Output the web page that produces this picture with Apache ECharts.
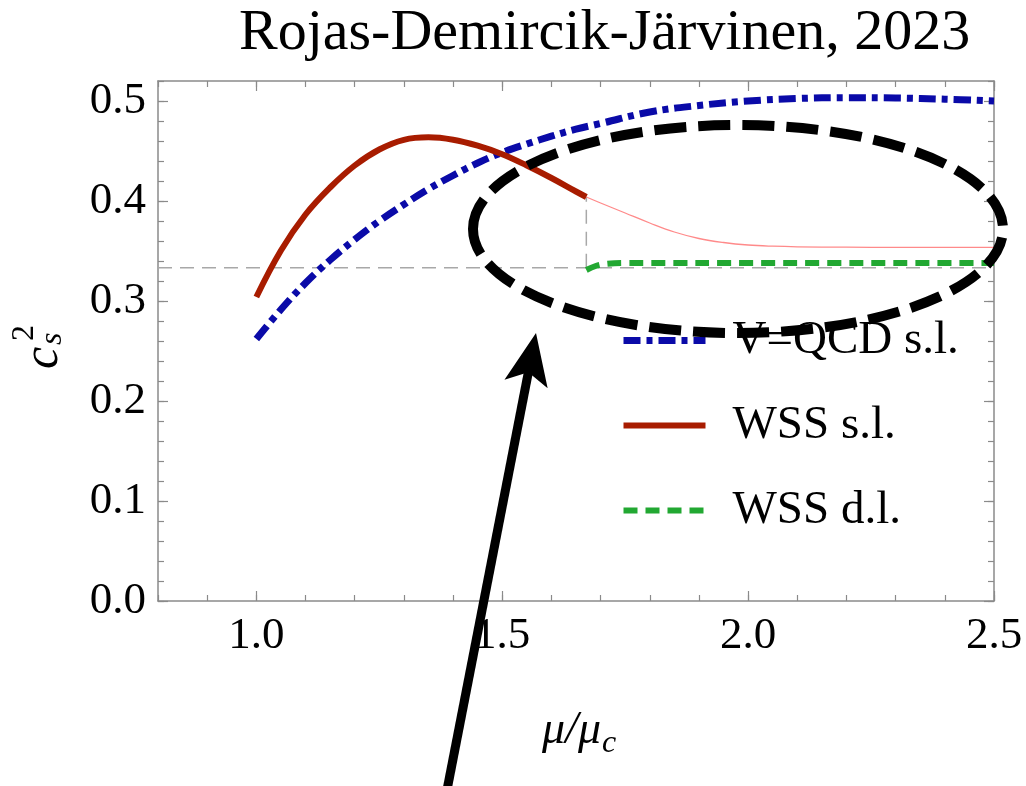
<!DOCTYPE html>
<html>
<head>
<meta charset="utf-8">
<title>Speed of sound</title>
<script src="https://cdn.jsdelivr.net/npm/echarts@6/dist/echarts.min.js"></script>
<style>
  html, body { margin: 0; padding: 0; background: #fff; }
  #chart { width: 1026px; height: 786px; }
</style>
</head>
<body>
<div id="chart"></div>
<script>
// ---- data ----
var qcdX = [1.00, 1.05, 1.10, 1.15, 1.20, 1.25, 1.30, 1.35, 1.40, 1.45, 1.50, 1.55, 1.60, 1.65, 1.70, 1.80, 1.90, 2.00, 2.10, 2.20, 2.30, 2.40, 2.50];
var qcdY = [0.262, 0.2915, 0.318, 0.341, 0.3615, 0.380, 0.3965, 0.412, 0.4255, 0.438, 0.4485, 0.457, 0.4648, 0.4718, 0.4775, 0.489, 0.4955, 0.500, 0.5025, 0.5033, 0.503, 0.5018, 0.500];

var wssX = [1.00, 1.05, 1.10, 1.15, 1.20, 1.25, 1.30, 1.35, 1.40, 1.45, 1.50, 1.55, 1.60, 1.65, 1.671];
var wssY = [0.304, 0.3505, 0.3865, 0.4135, 0.4355, 0.4515, 0.4612, 0.4637, 0.4613, 0.4553, 0.4468, 0.4355, 0.4230, 0.4095, 0.404];

// continuation of the single-layer curve past the transition (thin line)
var wssTailX = [1.671, 1.70, 1.75, 1.80, 1.85, 1.90, 1.95, 2.00, 2.05, 2.10, 2.20, 2.30, 2.50];
var wssTailY = [0.404, 0.398, 0.388, 0.378, 0.369, 0.3625, 0.3585, 0.356, 0.3548, 0.3542, 0.3538, 0.3537, 0.3537];

var wssDlX = [1.671, 1.69, 1.71, 1.75, 1.80, 2.00, 2.50];
var wssDlY = [0.331, 0.335, 0.337, 0.338, 0.338, 0.338, 0.338];

var conformalLimit = 1 / 3;
var transitionX = 1.671;

var xTicks = [1.0, 1.5, 2.0, 2.5];
var yTicks = [0.0, 0.1, 0.2, 0.3, 0.4, 0.5];

function pairs(xs, ys) {
  return xs.map(function (x, i) { return [x, ys[i]]; });
}

var serif = "'Liberation Serif', 'DejaVu Serif', serif";
var frameColor = '#8a8a8a';

function majorX(pos, labels) {
  return {
    type: 'value', min: 0.8, max: 2.5, position: pos,
    axisLine: { show: true, onZero: false, lineStyle: { color: frameColor, width: 1.5 } },
    axisTick: { show: true, inside: true, length: 10, customValues: xTicks, lineStyle: { color: frameColor, width: 1.2 } },
    axisLabel: {
      show: labels, customValues: xTicks, margin: 13,
      formatter: function (v) { return v.toFixed(1); },
      color: '#000', fontFamily: serif, fontSize: 45
    },
    splitLine: { show: false }
  };
}
function minorX(pos) {
  return {
    type: 'value', min: 0.8, max: 2.5, interval: 0.1, position: pos,
    axisLine: { show: false, onZero: false },
    axisTick: { show: true, inside: true, length: 6, lineStyle: { color: frameColor, width: 1.2 } },
    axisLabel: { show: false },
    splitLine: { show: false }
  };
}
function majorY(pos, labels) {
  return {
    type: 'value', min: 0, max: 0.52, position: pos,
    axisLine: { show: true, onZero: false, lineStyle: { color: frameColor, width: 1.5 } },
    axisTick: { show: true, inside: true, length: 10, customValues: yTicks, lineStyle: { color: frameColor, width: 1.2 } },
    axisLabel: {
      show: labels, customValues: yTicks, margin: 12,
      formatter: function (v) { return v.toFixed(1); },
      color: '#000', fontFamily: serif, fontSize: 45
    },
    splitLine: { show: false }
  };
}
function minorY(pos) {
  return {
    type: 'value', min: 0, max: 0.52, interval: 0.02, position: pos,
    axisLine: { show: false, onZero: false },
    axisTick: { show: true, inside: true, length: 6, lineStyle: { color: frameColor, width: 1.2 } },
    axisLabel: { show: false },
    splitLine: { show: false }
  };
}

var chart = echarts.init(document.getElementById('chart'), null, { renderer: 'canvas' });

// arrow geometry (annotation, pixels)
var arrowTail = [447, 790];
var arrowTip = [536, 333];
var dx = arrowTip[0] - arrowTail[0], dy = arrowTip[1] - arrowTail[1];
var len = Math.sqrt(dx * dx + dy * dy);
var ux = dx / len, uy = dy / len;
var px = -uy, py = ux;
var headLen = 52, headHalf = 22, notch = 40;
var baseC = [arrowTip[0] - ux * headLen, arrowTip[1] - uy * headLen];
var notchC = [arrowTip[0] - ux * notch, arrowTip[1] - uy * notch];

chart.setOption({
  backgroundColor: '#fff',
  animation: false,
  title: {
    text: 'Rojas-Demircik-Järvinen, 2023',
    left: 234, top: 0,
    textStyle: { fontFamily: serif, fontSize: 58, fontWeight: 'normal', color: '#000' }
  },
  grid: { left: 158, right: 32, top: 81, bottom: 185 },
  legend: {
    orient: 'vertical',
    left: 615, top: 312,
    itemWidth: 82, itemHeight: 40, itemGap: 38,
    data: ['V=QCD s.l.', 'WSS s.l.', 'WSS d.l.'],
    lineStyle: { width: 'inherit', type: 'inherit' },
    itemStyle: { opacity: 0 },
    textStyle: { fontFamily: serif, fontSize: 47, color: '#000', padding: [0, 0, 0, 22] }
  },
  xAxis: [majorX('bottom', true), minorX('bottom'), majorX('top', false), minorX('top')],
  yAxis: [majorY('left', true), minorY('left'), majorY('right', false), minorY('right')],
  series: [
    {
      name: 'conformal', type: 'line', symbol: 'none', silent: true,
      data: [[0.8, conformalLimit], [2.5, conformalLimit]],
      lineStyle: { color: '#a8a8a8', width: 1.5, type: [14, 8] }, z: 1
    },
    {
      name: 'transition', type: 'line', symbol: 'none', silent: true,
      data: [[transitionX, conformalLimit], [transitionX, wssY[wssY.length - 1]]],
      lineStyle: { color: '#a8a8a8', width: 1.5, type: [14, 8] }, z: 1
    },
    {
      name: 'WSS tail', type: 'line', symbol: 'none', smooth: 0.4, silent: true,
      data: pairs(wssTailX, wssTailY),
      lineStyle: { color: '#ff8a8a', width: 1.3 }
    },
    {
      name: 'V=QCD s.l.', type: 'line', symbol: 'none', smooth: 0.4,
      data: pairs(qcdX, qcdY),
      itemStyle: { color: '#0a0aa8' },
      lineStyle: { color: '#0a0aa8', width: 7, type: [17, 6, 6, 6], cap: 'butt' }
    },
    {
      name: 'WSS s.l.', type: 'line', symbol: 'none', smooth: 0.4,
      data: pairs(wssX, wssY),
      itemStyle: { color: '#a81c00' },
      lineStyle: { color: '#a81c00', width: 6 }
    },
    {
      name: 'WSS d.l.', type: 'line', symbol: 'none', smooth: 0.4,
      data: pairs(wssDlX, wssDlY),
      itemStyle: { color: '#22a832' },
      lineStyle: { color: '#22a832', width: 6, type: [14, 8] }
    }
  ],
  graphic: [
    {
      type: 'ellipse', z: 100,
      shape: { cx: 738, cy: 229, rx: 265, ry: 104 },
      style: { fill: 'none', stroke: '#000', lineWidth: 10, lineDash: [32, 12] }
    },
    {
      type: 'line', z: 100,
      shape: { x1: arrowTail[0], y1: arrowTail[1], x2: notchC[0] + ux * 4, y2: notchC[1] + uy * 4 },
      style: { stroke: '#000', lineWidth: 9 }
    },
    {
      type: 'polygon', z: 100,
      shape: {
        points: [
          arrowTip,
          [baseC[0] + px * headHalf, baseC[1] + py * headHalf],
          notchC,
          [baseC[0] - px * headHalf, baseC[1] - py * headHalf]
        ]
      },
      style: { fill: '#000' }
    },
    {
      type: 'text', z: 100, x: 601, y: 731,
      style: { text: 'μ/μ', fontFamily: serif, fontStyle: 'italic', fontSize: 46, fill: '#000', align: 'right', verticalAlign: 'middle' }
    },
    {
      type: 'text', z: 100, x: 602, y: 744,
      style: { text: 'c', fontFamily: serif, fontStyle: 'italic', fontSize: 32, fill: '#000', align: 'left', verticalAlign: 'middle' }
    },
    {
      type: 'group', x: 44, y: 345, rotation: Math.PI / 2,
      children: [
        { type: 'text', x: -24, y: 0, style: { text: 'c', fontFamily: serif, fontStyle: 'italic', fontSize: 50, fill: '#000', align: 'left', verticalAlign: 'middle' } },
        { type: 'text', x: 0, y: 9, style: { text: 's', fontFamily: serif, fontStyle: 'italic', fontSize: 32, fill: '#000', align: 'left', verticalAlign: 'middle' } },
        { type: 'text', x: 4, y: -19, style: { text: '2', fontFamily: serif, fontSize: 32, fill: '#000', align: 'left', verticalAlign: 'middle' } }
      ]
    }
  ]
});
</script>
</body>
</html>
